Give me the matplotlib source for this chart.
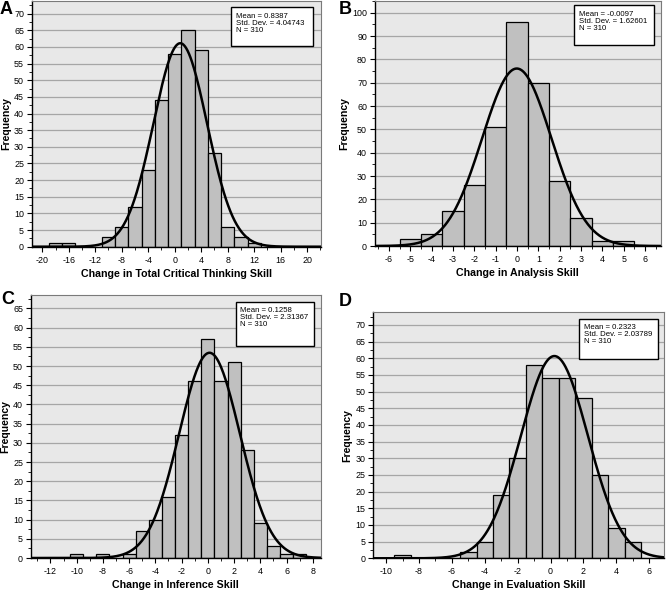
import numpy as np
import matplotlib
matplotlib.use("Agg")
import matplotlib.pyplot as plt
from matplotlib.ticker import MultipleLocator

plt.rcParams['font.family'] = ['Liberation Sans', 'DejaVu Sans']
plt.rcParams['axes.unicode_minus'] = False

# ---- data ----
a_centers = [-18, -16, -10, -8, -6, -4, -2, 0, 2, 4, 6, 8, 10, 12]
a_counts = [1, 1, 3, 6, 12, 23, 44, 58, 65, 59, 28, 6, 3, 1]
a_mean, a_sd = 0.8387, 4.04743

b_centers = [-5, -4, -3, -2, -1, 0, 1, 2, 3, 4, 5]
b_counts = [3, 5, 15, 26, 51, 96, 70, 28, 12, 2, 2]
b_mean, b_sd = -0.0097, 1.62601

c_centers = [-10, -8, -6, -5, -4, -3, -2, -1, 0, 1, 2, 3, 4, 5, 6, 7]
c_counts = [1, 1, 1, 7, 10, 16, 32, 46, 57, 46, 51, 28, 9, 3, 1, 1]
c_mean, c_sd = 0.1258, 2.31367

d_centers = [-9, -5, -4, -3, -2, -1, 0, 1, 2, 3, 4, 5]
d_counts = [1, 2, 5, 19, 30, 58, 54, 54, 48, 25, 9, 5]
d_mean, d_sd = 0.2323, 2.03789

n_total = 310

xlabels = ["Change in Total Critical Thinking Skill", "Change in Analysis Skill",
           "Change in Inference Skill", "Change in Evaluation Skill"]
letters = ["A", "B", "C", "D"]

fig = plt.figure(figsize=(6.66, 5.92), dpi=100)

W, H = 666.0, 592.0
def rect(l, t, r, b):
    return [l / W, 1 - b / H, (r - l) / W, (b - t) / H]

panels = [
    dict(centers=a_centers, counts=a_counts, mean=a_mean, sd=a_sd, width=2,
         rect=rect(31.7, 1, 321, 246.7), xlim=(-21.6, 22.1), ylim=(0, 73.8),
         ymaj=5, ymin=2.5, xmin=2, xticks=np.arange(-20, 21, 4),
         box=(231, 7.3, 312.7, 45.7), letter=(0, 9)),
    dict(centers=b_centers, counts=b_counts, mean=b_mean, sd=b_sd, width=1,
         rect=rect(374.7, 1, 661, 246), xlim=(-6.67, 6.75), ylim=(0, 105),
         ymaj=10, ymin=5, xmin=0.5, xticks=np.arange(-6, 7, 1),
         box=(574.3, 5.3, 653.7, 45.3), letter=(339, 9)),
    dict(centers=c_centers, counts=c_counts, mean=c_mean, sd=c_sd, width=1,
         rect=rect(30.7, 295, 320.7, 558), xlim=(-13.5, 8.6), ylim=(0, 68.5),
         ymaj=5, ymin=2.5, xmin=1, xticks=np.arange(-12, 9, 2),
         box=(236, 301.7, 314.3, 346), letter=(1, 300)),
    dict(centers=d_centers, counts=d_counts, mean=d_mean, sd=d_sd, width=1,
         rect=rect(373, 312, 664, 558.3), xlim=(-10.8, 6.9), ylim=(0, 73.9),
         ymaj=5, ymin=2.5, xmin=1, xticks=np.arange(-10, 7, 2),
         box=(579, 318.7, 658, 359.3), letter=(339, 301)),
]

for i, p in enumerate(panels):
    ax = fig.add_axes(p['rect'])
    ax.set_facecolor('#e8e8e8')
    ax.set_xlim(*p['xlim'])
    ax.set_ylim(*p['ylim'])
    ax.yaxis.set_major_locator(MultipleLocator(p['ymaj']))
    ax.yaxis.set_minor_locator(MultipleLocator(p['ymin']))
    ax.set_xticks(p['xticks'])
    ax.xaxis.set_minor_locator(MultipleLocator(p['xmin']))
    ax.grid(axis='y', which='major', color='#a6a6a6', linewidth=0.9)
    ax.set_axisbelow(True)
    ax.bar(p['centers'], p['counts'], width=p['width'], color='#c0c0c0',
           edgecolor='black', linewidth=0.9, zorder=2)
    xs = np.linspace(p['xlim'][0], p['xlim'][1], 400)
    ys = n_total * p['width'] * np.exp(-0.5 * ((xs - p['mean']) / p['sd']) ** 2) / (p['sd'] * np.sqrt(2 * np.pi))
    ax.plot(xs, ys, color='black', linewidth=1.8, zorder=3)
    for s in ['top', 'right']:
        ax.spines[s].set_color('#7a7a7a')
    for s in ['left', 'bottom']:
        ax.spines[s].set_color('black')
        ax.spines[s].set_linewidth(1.0)
    ax.tick_params(which='major', length=3.5, width=0.8, labelsize=6.4, pad=2, direction='out')
    ax.tick_params(which='minor', length=2, width=0.6, direction='out')
    ax.tick_params(axis='x', which='major', pad=3)
    ax.set_xlabel(xlabels[i], fontsize=7.7, fontweight='bold', labelpad=3)
    ax.set_ylabel('Frequency', fontsize=7.6, fontweight='bold', labelpad=2)

    # stats box
    l, t, r, b = p['box']
    txt = "Mean = %s\nStd. Dev. = %s\nN = %d" % (
        ("%.4f" % p['mean']), ("%.5f" % p['sd']), n_total)
    box = plt.Rectangle((l / W, 1 - b / H), (r - l) / W, (b - t) / H,
                        transform=fig.transFigure, facecolor='white',
                        edgecolor='black', linewidth=1.0, zorder=5)
    fig.add_artist(box)
    fig.text((l + 4.5) / W, 1 - (t + 5.5) / H, txt, fontsize=5.6, va='top', ha='left',
             linespacing=1.0, zorder=6)

    lx, ly = p['letter']
    fig.text(lx / W, 1 - ly / H, letters[i], fontsize=13, fontweight='bold',
             ha='left', va='center')

fig.savefig('out.png', dpi=100)
